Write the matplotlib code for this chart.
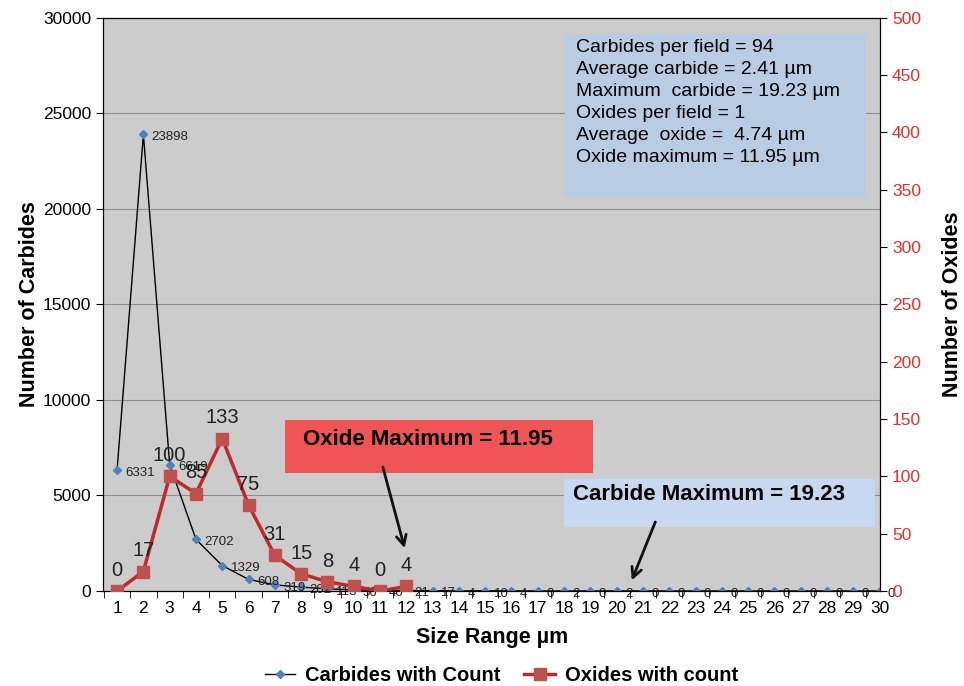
import numpy as np
import matplotlib
matplotlib.use('Agg')
import matplotlib.pyplot as plt

plt.rcParams['font.family'] = ['Liberation Sans', 'DejaVu Sans']

# data
size_range = list(range(1, 31))
carbides = [6331, 23898, 6619, 2702, 1329, 608, 319, 202, 113, 56,
            40, 21, 17, 4, 10, 4, 0, 2, 0, 2,
            0, 0, 0, 0, 0, 0, 0, 0, 0, 0]
oxide_range = list(range(1, 13))
oxides = [0, 17, 100, 85, 133, 75, 31, 15, 8, 4, 0, 4]

info_lines = ['Carbides per field = 94',
              'Average carbide = 2.41 \u00b5m',
              'Maximum  carbide = 19.23 \u00b5m',
              'Oxides per field = 1',
              'Average  oxide =  4.74 \u00b5m',
              'Oxide maximum = 11.95 \u00b5m']

fig = plt.figure(figsize=(9.64, 6.86), dpi=100)
ax = fig.add_axes([0.107, 0.1385, 0.806, 0.8355])
ax.set_facecolor('#cccccc')
ax2 = ax.twinx()

ax.set_xlim(0.47, 30.02)
ax.set_ylim(0, 30000)
ax.set_yticks(np.arange(0, 30001, 5000))
ax.yaxis.grid(True, color='#8c8c8c', lw=0.8)
ax.set_axisbelow(True)
ax.set_xticks(size_range)
ax.set_xticks(np.arange(0.5, 30.5, 1), minor=True)
ax.tick_params(axis='x', which='major', length=0, labelsize=12.5, pad=7)
ax.tick_params(axis='x', which='minor', length=5, direction='out')
ax.tick_params(axis='y', labelsize=12.5, length=5)

l1, = ax.plot(size_range, carbides, color='black', lw=1, marker='D', ms=4.5,
              mfc='#4f81bd', mec='#4f81bd', label='Carbides with Count', zorder=3)
for x, v in zip(size_range, carbides):
    ax.annotate(str(v), (x, v), xytext=(6, -2), textcoords='offset points',
                fontsize=9.5, va='center', ha='left', color='#222222', zorder=4)

ax2.set_ylim(0, 500)
ax2.set_yticks(np.arange(0, 501, 50))
ax2.tick_params(axis='y', labelcolor='#e5302a', labelsize=12.5, length=5, color='black')
l2, = ax2.plot(oxide_range, oxides, color='#c0282a', lw=2.5, marker='s', ms=9,
               mfc='#c0504d', mec='#c0504d', label='Oxides with count', zorder=3)
for x, v in zip(oxide_range, oxides):
    ax2.annotate(str(v), (x, v), xytext=(0, 8), textcoords='offset points',
                 fontsize=14.5, ha='center', va='bottom', color='#222222')

ax.set_xlabel('Size Range \u00b5m', fontsize=15.5, fontweight='bold', labelpad=8)
ax.set_ylabel('Number of Carbides', fontsize=15.5, fontweight='bold', labelpad=2)
ax2.set_ylabel('Number of Oxides', fontsize=15.5, fontweight='bold', labelpad=15)

# info box
ax.add_patch(plt.Rectangle((0.594, 0.688), 0.388, 0.283, transform=ax.transAxes,
                           facecolor='#b8cce4', edgecolor='none', zorder=5))
ax.text(0.608, 0.963, '\n'.join(info_lines), transform=ax.transAxes,
        fontsize=14, va='top', ha='left', linespacing=1.38, zorder=6)

# oxide maximum box
ax.add_patch(plt.Rectangle((0.234, 0.206), 0.397, 0.093, transform=ax.transAxes,
                           facecolor='#f05454', edgecolor='none', zorder=5))
ax.text(0.257, 0.265, 'Oxide Maximum = 11.95', transform=ax.transAxes,
        fontsize=16, fontweight='bold', va='center', zorder=6)
ax.annotate('', xy=(0.389, 0.07), xytext=(0.359, 0.221), xycoords='axes fraction',
            arrowprops=dict(arrowstyle='->', lw=2, color='#111111',
                            mutation_scale=18), zorder=6)

# carbide maximum box
ax.add_patch(plt.Rectangle((0.593, 0.112), 0.401, 0.083, transform=ax.transAxes,
                           facecolor='#c6d9f0', edgecolor='none', zorder=5))
ax.text(0.605, 0.168, 'Carbide Maximum = 19.23', transform=ax.transAxes,
        fontsize=16, fontweight='bold', va='center', zorder=6)
ax.annotate('', xy=(0.679, 0.014), xytext=(0.712, 0.125), xycoords='axes fraction',
            arrowprops=dict(arrowstyle='->', lw=2, color='#111111',
                            mutation_scale=18), zorder=6)

fig.legend([l1, l2], ['Carbides with Count', 'Oxides with count'],
           loc='lower center', bbox_to_anchor=(0.52, -0.025), ncol=2, frameon=False,
           prop={'weight': 'bold', 'size': 14.5}, handlelength=1.5,
           handletextpad=0.5, columnspacing=1.2)

fig.savefig('out.png', dpi=100)
